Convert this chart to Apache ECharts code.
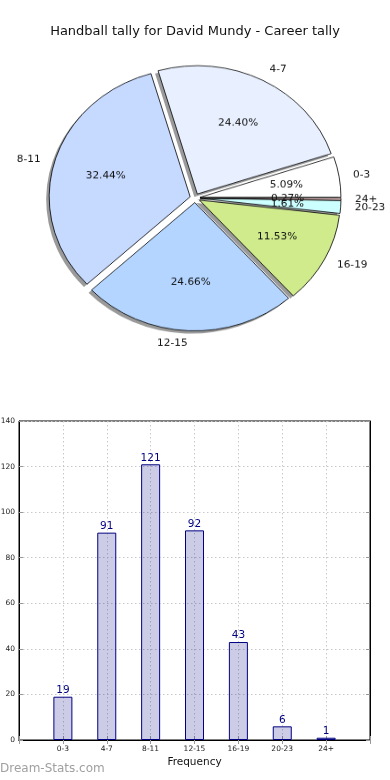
<!DOCTYPE html>
<html><head><meta charset="utf-8">
<script src="https://cdn.jsdelivr.net/npm/echarts@6/dist/echarts.min.js"></script>
<style>
html,body{margin:0;padding:0;background:#fff}
#wrap{position:relative;width:390px;height:780px}
#c{position:absolute;left:0;top:0;width:390px;height:780px}
#p{position:absolute;left:0;top:0;width:390px;height:420px;transform-origin:0 0;transform:scaleY(0.91)}
</style>
</head><body><div id="wrap"><div id="c"></div><div id="p"></div></div>
<script>
const titleText = 'Handball tally for David Mundy - Career tally';
const categories = ['0-3', '4-7', '8-11', '12-15', '16-19', '20-23', '24+'];
const tallies = [19, 91, 121, 92, 43, 6, 1];
const sliceColors = ['#ffffff', '#e8f0ff', '#c6d9ff', '#b4d5ff', '#d0eb8c', '#ccffff', '#ffd6d6'];
const yTicks = [0, 20, 40, 60, 80, 100, 120, 140];
const xAxisTitle = 'Frequency';
const watermark = 'Dream-Stats.com';

const FONT = 'DejaVu Sans';
const SCALE_Y = 0.91;           // pie is drawn slightly flattened, as in the reference
const CX = 195, CY = 198 / SCALE_Y, R = 141;
const total = tallies.reduce((a, b) => a + b, 0);

const chart = echarts.init(document.getElementById('c'), null, {renderer: 'canvas'});
const pieChart = echarts.init(document.getElementById('p'), null, {renderer: 'canvas'});

function pieData(styleFn) {
  return categories.map((c, i) => Object.assign({name: c, value: tallies[i], selected: true}, styleFn ? styleFn(i) : {}));
}
const pieCommon = {
  type: 'pie', startAngle: 0, clockwise: false, selectedMode: 'multiple', selectedOffset: 5,
  avoidLabelOverlap: false, silent: true, emphasis: {disabled: true}, animation: false,
  minAngle: 0, minShowLabelAngle: 0, labelLayout: {hideOverlap: false}
};

pieChart.setOption({
  animation: false,
  series: [
    Object.assign({}, pieCommon, {
      name: 'shadow', center: [CX - 3, CY + 3], radius: R, z: 1,
      data: pieData(() => ({itemStyle: {color: '#9a9a9a', borderWidth: 0}})),
      label: {show: false}, labelLine: {show: false}
    }),
    Object.assign({}, pieCommon, {
      name: 'pie', center: [CX, CY], radius: R, z: 2,
      data: pieData(i => ({itemStyle: {color: sliceColors[i], borderColor: '#000', borderWidth: 0.8}})),
      label: {show: true, position: 'outside', fontFamily: FONT, fontSize: 10.5, color: '#111', distanceToLabelLine: 0, formatter: '{b}'},
      labelLine: {show: false, length: R * 0.1, length2: 0}
    }),
    Object.assign({}, pieCommon, {
      name: 'pct', center: [CX, CY], radius: R * 1.2, z: 3,
      data: pieData(() => ({itemStyle: {color: 'rgba(0,0,0,0)', borderWidth: 0}})),
      label: {show: true, position: 'inside', fontFamily: FONT, fontSize: 10.5, color: '#111',
        formatter: p => (p.value / total * 100).toFixed(2) + '%'},
      labelLine: {show: false}
    })
  ]
});

chart.setOption({
  animation: false,
  title: {text: titleText, left: 'center', top: 20, textStyle: {fontFamily: FONT, fontSize: 13, fontWeight: 'normal', color: '#111'}},
  graphic: [{type: 'text', left: 0, top: 763, style: {text: watermark, font: '12px "DejaVu Sans"', fill: '#a0a0a0'}}],
  grid: {left: 19, right: 20, top: 421, bottom: 40, show: true, borderColor: '#000', borderWidth: 1,
    backgroundColor: 'transparent', containLabel: false, outerBoundsMode: 'none'},
  xAxis: [{
    type: 'category', boundaryGap: false, data: [''].concat(categories, ['']),
    axisLine: {show: true, lineStyle: {color: '#000'}},
    axisTick: {show: true, inside: true, length: 4, interval: 0, lineStyle: {color: '#999'}},
    axisLabel: {interval: 0, fontFamily: FONT, fontSize: 7.5, color: '#222', margin: 5},
    splitLine: {show: true, interval: 0, lineStyle: {color: '#c8c8c8', type: [1.5, 2.5]}},
    name: xAxisTitle, nameLocation: 'middle', nameGap: 17, nameTextStyle: {fontFamily: FONT, fontSize: 10.5, color: '#111'}
  }, {
    type: 'category', position: 'top', boundaryGap: false, data: [''].concat(categories, ['']),
    axisLine: {show: true, lineStyle: {color: '#000'}},
    axisTick: {show: true, inside: true, length: 4, interval: 0, lineStyle: {color: '#999'}},
    axisLabel: {show: false}, splitLine: {show: false}
  }],
  yAxis: [{
    type: 'value', min: 0, max: 140, interval: 20,
    axisLine: {show: true, lineStyle: {color: '#000'}},
    axisTick: {show: true, inside: true, length: 4, lineStyle: {color: '#999'}},
    axisLabel: {fontFamily: FONT, fontSize: 7.5, color: '#222', margin: 4,
      formatter: v => yTicks.indexOf(v) >= 0 ? String(v) : ''},
    splitLine: {show: true, lineStyle: {color: '#c8c8c8', type: [1.5, 2.5]}}
  }, {
    type: 'value', min: 0, max: 140, interval: 20, position: 'right',
    axisLine: {show: true, lineStyle: {color: '#000'}},
    axisTick: {show: true, inside: true, length: 4, lineStyle: {color: '#999'}},
    axisLabel: {show: false}, splitLine: {show: false}
  }],
  series: [{
    type: 'bar', xAxisIndex: 0, yAxisIndex: 0, barWidth: 19,
    data: [null].concat(tallies, [null]),
    itemStyle: {color: 'rgba(0,0,128,0.2)', borderColor: '#000080', borderWidth: 1},
    label: {show: true, position: 'top', distance: 1, fontFamily: FONT, fontSize: 10.5, color: '#000080'},
    silent: true, emphasis: {disabled: true}
  }]
});
</script></body></html>
